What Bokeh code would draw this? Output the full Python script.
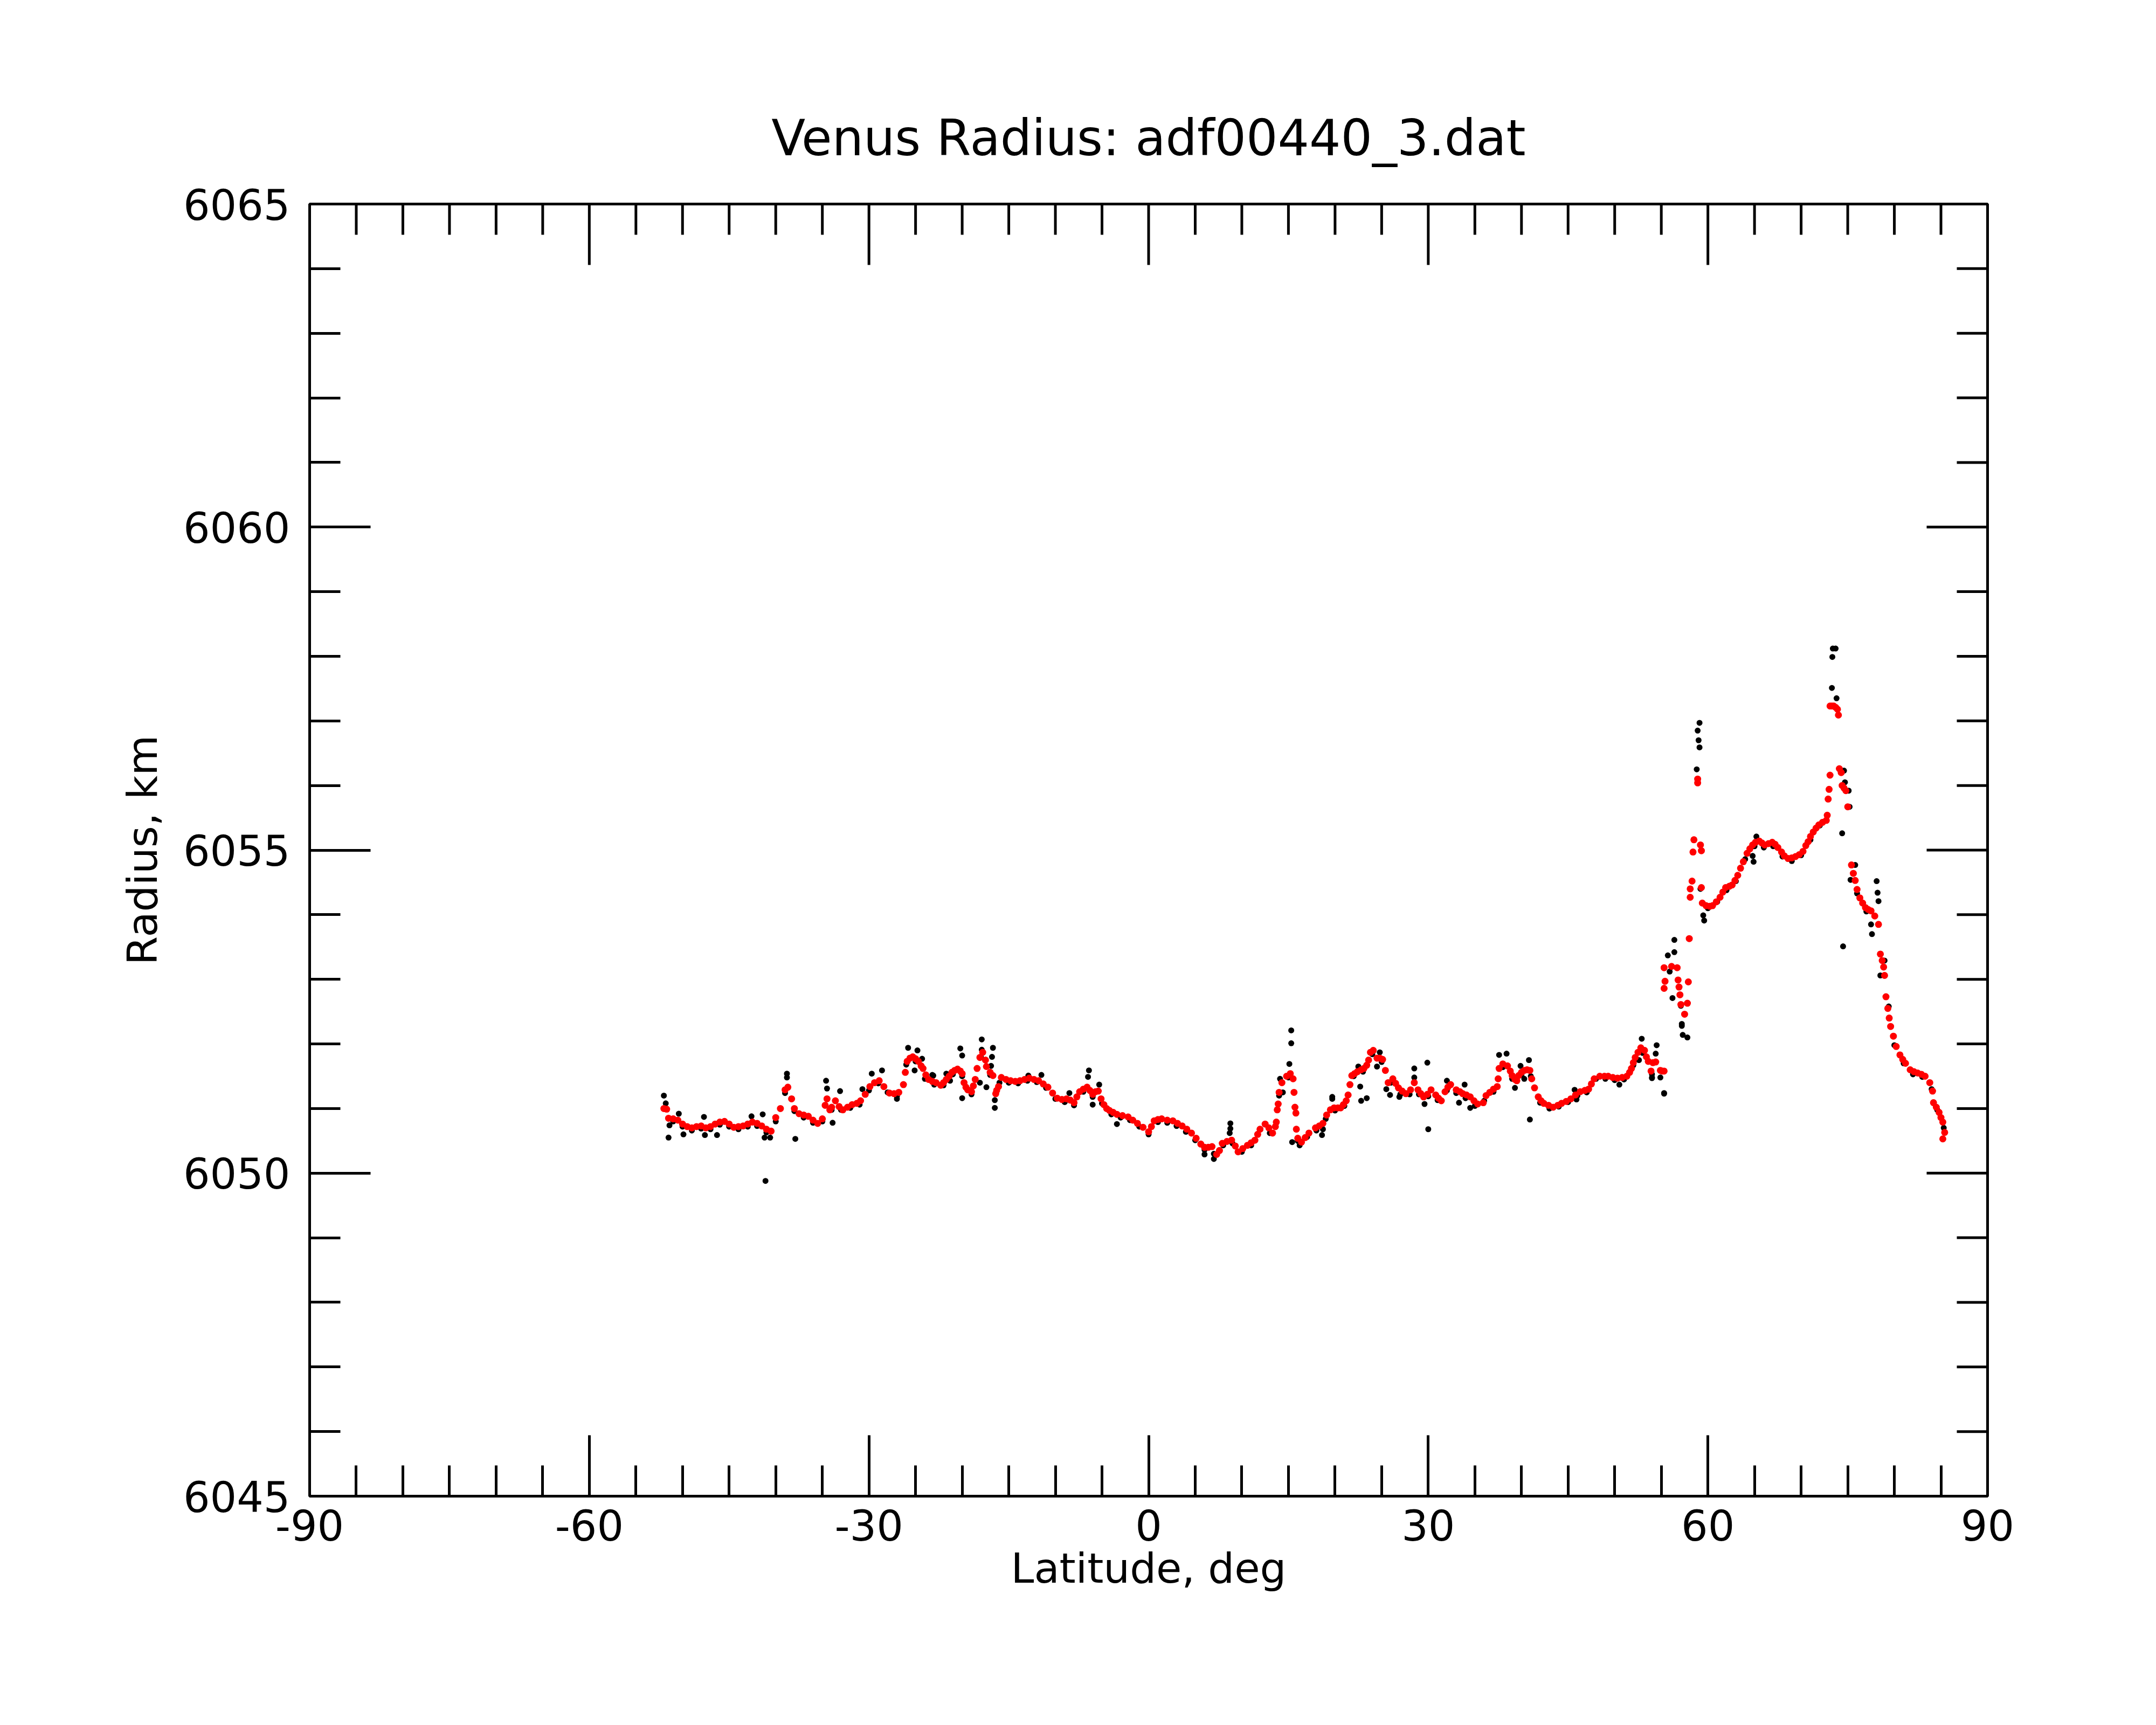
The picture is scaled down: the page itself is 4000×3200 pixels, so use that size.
import math
from bokeh.plotting import figure
from bokeh.models import Range1d, FixedTicker
from bokeh.embed import file_html
from bokeh.resources import INLINE

TITLE = "Venus Radius: adf00440_3.dat"
X_LABEL = "Latitude, deg"
Y_LABEL = "Radius, km"
x_major = [-90, -60, -30, 0, 30, 60, 90]
x_minor = [v for v in range(-90, 91, 5) if v % 30 != 0]
y_major = [6045, 6050, 6055, 6060, 6065]
y_minor = [v for v in range(6045, 6066) if v % 5 != 0]

# smoothed radius (red), (latitude, radius km)
fit_points = [
    (-52.0, 6051.00), (-51.7, 6050.99), (-51.5, 6050.85), (-51.0, 6050.84), (-50.5, 6050.82),
    (-50.0, 6050.76), (-49.5, 6050.72), (-49.0, 6050.70), (-48.5, 6050.72), (-48.0, 6050.73),
    (-47.5, 6050.70), (-47.0, 6050.72), (-46.5, 6050.76), (-46.0, 6050.79), (-45.5, 6050.80),
    (-45.0, 6050.76), (-44.5, 6050.71), (-44.0, 6050.72), (-43.5, 6050.73), (-43.0, 6050.76),
    (-42.5, 6050.79), (-42.0, 6050.77), (-41.5, 6050.73), (-41.0, 6050.68), (-40.5, 6050.65),
    (-40.0, 6050.86), (-39.5, 6051.00), (-39.0, 6051.29), (-38.7, 6051.33), (-38.3, 6051.15),
    (-38.0, 6051.00), (-37.5, 6050.92), (-37.0, 6050.90), (-36.5, 6050.88), (-36.0, 6050.82),
    (-35.5, 6050.77), (-35.0, 6050.84), (-34.7, 6051.05), (-34.5, 6051.15), (-34.2, 6050.98),
    (-34.0, 6051.02), (-33.6, 6051.12), (-33.2, 6051.03), (-32.8, 6050.98), (-32.3, 6051.02),
    (-31.8, 6051.06), (-31.3, 6051.08), (-30.9, 6051.12), (-30.4, 6051.22), (-29.9, 6051.34),
    (-29.4, 6051.40), (-28.9, 6051.43), (-28.4, 6051.34), (-27.8, 6051.24), (-27.3, 6051.23),
    (-26.8, 6051.25), (-26.3, 6051.37), (-26.1, 6051.56), (-25.9, 6051.73), (-25.6, 6051.78),
    (-25.3, 6051.80), (-25.0, 6051.77), (-24.7, 6051.73), (-24.4, 6051.66), (-24.2, 6051.62),
    (-23.9, 6051.52), (-23.6, 6051.45), (-23.2, 6051.42), (-22.8, 6051.40), (-22.3, 6051.36),
    (-22.0, 6051.40), (-21.7, 6051.45), (-21.4, 6051.50), (-21.1, 6051.56), (-20.8, 6051.59),
    (-20.5, 6051.61), (-20.2, 6051.58), (-20.0, 6051.54), (-19.8, 6051.40), (-19.6, 6051.33),
    (-19.4, 6051.29), (-19.0, 6051.26), (-18.8, 6051.35), (-18.6, 6051.45), (-18.4, 6051.62),
    (-18.1, 6051.79), (-17.8, 6051.87), (-17.5, 6051.75), (-17.4, 6051.65), (-17.0, 6051.56),
    (-16.7, 6051.51), (-16.4, 6051.23), (-16.3, 6051.28), (-16.1, 6051.34), (-15.8, 6051.48),
    (-15.3, 6051.45), (-14.8, 6051.43), (-14.3, 6051.42), (-13.8, 6051.43), (-13.3, 6051.45),
    (-12.8, 6051.47), (-12.3, 6051.45), (-11.8, 6051.43), (-11.3, 6051.38), (-10.8, 6051.33),
    (-10.3, 6051.24), (-9.8, 6051.16), (-9.3, 6051.14), (-8.8, 6051.15), (-8.4, 6051.13),
    (-8.0, 6051.09), (-7.7, 6051.18), (-7.4, 6051.26), (-7.0, 6051.30), (-6.6, 6051.33),
    (-6.3, 6051.28), (-6.0, 6051.22), (-5.7, 6051.26), (-5.4, 6051.27), (-5.1, 6051.15),
    (-4.8, 6051.06), (-4.5, 6051.00), (-4.2, 6050.97), (-3.8, 6050.94), (-3.4, 6050.91),
    (-2.8, 6050.89), (-2.2, 6050.87), (-1.7, 6050.82), (-1.2, 6050.77), (-0.6, 6050.71),
    (0.0, 6050.64), (0.3, 6050.72), (0.6, 6050.81), (1.0, 6050.83), (1.4, 6050.84),
    (2.0, 6050.82), (2.6, 6050.81), (3.1, 6050.77), (3.6, 6050.73), (4.1, 6050.68),
    (4.6, 6050.62), (5.1, 6050.54), (5.6, 6050.45), (6.0, 6050.40), (6.4, 6050.40),
    (6.8, 6050.41), (7.3, 6050.29), (7.6, 6050.35), (7.9, 6050.46), (8.4, 6050.49),
    (8.9, 6050.51), (9.3, 6050.42), (9.6, 6050.33), (10.1, 6050.38), (10.6, 6050.43),
    (11.0, 6050.47), (11.4, 6050.51), (11.7, 6050.60), (11.95, 6050.68), (12.5, 6050.76),
    (12.9, 6050.70), (13.3, 6050.62), (13.6, 6050.72), (13.7, 6050.79), (13.8, 6050.98),
    (13.9, 6051.07), (14.0, 6051.25), (14.3, 6051.40), (14.8, 6051.50), (15.2, 6051.54),
    (15.5, 6051.46), (15.6, 6051.25), (15.7, 6051.02), (15.8, 6050.93), (15.85, 6050.68),
    (16.0, 6050.54), (16.4, 6050.48), (16.8, 6050.55), (17.2, 6050.62), (17.9, 6050.70),
    (18.3, 6050.73), (18.7, 6050.77), (19.1, 6050.90), (19.5, 6050.98), (19.9, 6051.01),
    (20.3, 6051.01), (20.6, 6051.01), (20.9, 6051.06), (21.2, 6051.12), (21.4, 6051.21),
    (21.6, 6051.37), (21.8, 6051.51), (22.1, 6051.54), (22.4, 6051.57), (22.8, 6051.60),
    (23.1, 6051.62), (23.4, 6051.67), (23.6, 6051.75), (23.8, 6051.87), (24.1, 6051.90),
    (24.5, 6051.78), (24.8, 6051.78), (25.1, 6051.76), (25.4, 6051.59), (25.7, 6051.40),
    (26.2, 6051.46), (26.5, 6051.39), (26.8, 6051.32), (27.2, 6051.27), (27.6, 6051.23),
    (28.1, 6051.29), (28.5, 6051.40), (28.9, 6051.29), (29.2, 6051.23), (29.5, 6051.18),
    (29.9, 6051.22), (30.3, 6051.29), (30.8, 6051.21), (31.1, 6051.16), (31.4, 6051.12),
    (31.8, 6051.26), (32.1, 6051.33), (32.4, 6051.37), (33.0, 6051.29), (33.4, 6051.26),
    (33.7, 6051.23), (34.1, 6051.21), (34.5, 6051.18), (34.9, 6051.12), (35.3, 6051.07),
    (35.9, 6051.09), (36.2, 6051.20), (36.6, 6051.25), (37.0, 6051.30), (37.4, 6051.34),
    (37.5, 6051.46), (37.6, 6051.62), (38.0, 6051.69), (38.5, 6051.66), (38.8, 6051.58),
    (39.0, 6051.51), (39.3, 6051.45), (39.5, 6051.43), (39.7, 6051.51), (40.0, 6051.56),
    (40.3, 6051.59), (40.6, 6051.60), (40.9, 6051.59), (41.1, 6051.46), (41.4, 6051.32),
    (41.8, 6051.18), (42.1, 6051.12), (42.4, 6051.08), (42.9, 6051.05), (43.4, 6051.02),
    (43.9, 6051.05), (44.3, 6051.08), (44.8, 6051.11), (45.3, 6051.15), (45.8, 6051.21),
    (46.3, 6051.26), (46.8, 6051.28), (47.2, 6051.30), (47.5, 6051.38), (47.8, 6051.46),
    (48.4, 6051.50), (48.9, 6051.50), (49.3, 6051.50), (49.8, 6051.48), (50.3, 6051.47),
    (50.8, 6051.48), (51.3, 6051.50), (51.6, 6051.56), (51.8, 6051.62), (52.0, 6051.71),
    (52.2, 6051.79), (52.5, 6051.87), (52.8, 6051.94), (53.2, 6051.90), (53.4, 6051.80),
    (53.6, 6051.73), (53.9, 6051.58), (54.1, 6051.71), (54.4, 6051.72), (54.9, 6051.59),
    (55.1, 6051.58), (55.3, 6051.58), (55.3, 6052.86), (55.3, 6053.18), (55.4, 6052.97),
    (56.1, 6053.20), (56.7, 6053.18), (56.8, 6052.99), (56.9, 6052.88), (57.0, 6052.76),
    (57.1, 6052.61), (57.5, 6052.46), (57.8, 6052.63), (57.9, 6052.96), (58.0, 6053.63),
    (58.1, 6054.27), (58.1, 6054.40), (58.3, 6054.52), (58.4, 6054.97), (58.5, 6055.16),
    (58.9, 6056.10), (58.9, 6056.04), (59.2, 6055.08), (59.3, 6054.99), (59.3, 6054.42),
    (59.4, 6054.18), (59.8, 6054.14), (60.2, 6054.13), (60.5, 6054.14), (60.9, 6054.20),
    (61.3, 6054.27), (61.6, 6054.35), (61.9, 6054.42), (62.3, 6054.44), (62.6, 6054.46),
    (62.9, 6054.53), (63.2, 6054.61), (63.5, 6054.72), (63.8, 6054.82), (64.2, 6054.95),
    (64.5, 6055.02), (64.8, 6055.08), (65.1, 6055.12), (65.5, 6055.14), (65.8, 6055.11),
    (66.1, 6055.08), (66.5, 6055.10), (66.9, 6055.12), (67.2, 6055.09), (67.5, 6055.04),
    (67.9, 6054.97), (68.2, 6054.91), (68.6, 6054.87), (69.0, 6054.88), (69.4, 6054.90),
    (69.8, 6054.93), (70.2, 6054.98), (70.5, 6055.07), (70.75, 6055.13), (71.0, 6055.21),
    (71.3, 6055.28), (71.6, 6055.34), (71.9, 6055.39), (72.3, 6055.43), (72.7, 6055.46),
    (72.8, 6055.54), (72.9, 6055.79), (73.0, 6055.94), (73.1, 6056.16), (73.1, 6057.23),
    (73.3, 6057.23), (73.5, 6057.23), (73.7, 6057.21), (73.9, 6057.18), (74.0, 6057.09),
    (74.1, 6056.26), (74.3, 6056.20), (74.4, 6056.00), (74.6, 6055.96), (74.8, 6055.92),
    (75.0, 6055.67), (75.4, 6054.77), (75.6, 6054.64), (75.8, 6054.53), (76.0, 6054.39),
    (76.3, 6054.26), (76.6, 6054.18), (76.9, 6054.11), (77.2, 6054.08), (77.5, 6054.06),
    (77.9, 6053.98), (78.3, 6053.85), (78.5, 6053.39), (78.7, 6053.29), (78.85, 6053.19),
    (78.95, 6053.06), (79.1, 6052.73), (79.3, 6052.55), (79.45, 6052.40), (79.6, 6052.27),
    (79.9, 6052.12), (80.2, 6051.96), (80.6, 6051.83), (80.9, 6051.76), (81.2, 6051.70),
    (81.7, 6051.60), (82.1, 6051.57), (82.5, 6051.55), (82.9, 6051.53), (83.3, 6051.50),
    (83.8, 6051.40), (84.1, 6051.27), (84.2, 6051.09), (84.5, 6051.02), (84.8, 6050.94),
    (85.0, 6050.86), (85.2, 6050.79), (85.4, 6050.63), (85.2, 6050.53),
]

# raw radius (black), points along the profile
raw_profile = [
    (-51, 6050.80), (-50, 6050.72), (-49, 6050.66), (-48, 6050.69), (-47, 6050.68),
    (-46, 6050.75), (-45, 6050.72), (-44, 6050.68), (-43, 6050.72), (-42, 6050.73),
    (-41, 6050.63), (-40, 6050.80), (-39, 6051.24), (-38, 6050.96), (-37, 6050.86),
    (-36, 6050.78), (-35, 6050.80), (-34, 6050.98), (-33, 6050.98), (-32, 6051.01),
    (-31, 6051.06), (-30, 6051.28), (-29, 6051.39), (-28, 6051.25), (-27, 6051.19),
    (-26, 6051.68), (-25, 6051.73), (-24, 6051.46), (-23, 6051.37), (-22, 6051.36),
    (-21, 6051.53), (-20, 6051.50), (-19, 6051.22), (-18, 6051.80), (-17, 6051.52),
    (-16, 6051.40), (-15, 6051.40), (-14, 6051.39), (-13, 6051.43), (-12, 6051.41),
    (-11, 6051.32), (-10, 6051.15), (-9, 6051.10), (-8, 6051.05), (-7, 6051.26),
    (-6, 6051.18), (-5, 6051.08), (-4, 6050.91), (-3, 6050.86), (-2, 6050.82),
    (-1, 6050.72), (0, 6050.60), (1, 6050.79), (2, 6050.78), (3, 6050.73),
    (4, 6050.64), (5, 6050.51), (6, 6050.36), (7, 6050.30), (8, 6050.43),
    (9, 6050.46), (10, 6050.33), (11, 6050.43), (12, 6050.68), (13, 6050.62),
    (14, 6051.20), (15, 6051.48), (16, 6050.50), (17, 6050.56), (18, 6050.66),
    (19, 6050.84), (20, 6050.97), (21, 6051.04), (22, 6051.50), (23, 6051.57),
    (24, 6051.84), (25, 6051.72), (26, 6051.40), (27, 6051.22), (28, 6051.22),
    (29, 6051.22), (30, 6051.19), (31, 6051.13), (32, 6051.28), (33, 6051.24),
    (34, 6051.16), (35, 6051.04), (36, 6051.12), (37, 6051.26), (38, 6051.64),
    (39, 6051.46), (40, 6051.52), (41, 6051.50), (42, 6051.09), (43, 6051.00),
    (44, 6051.03), (45, 6051.10), (46, 6051.20), (47, 6051.25), (48, 6051.46),
    (49, 6051.46), (50, 6051.44), (51, 6051.45), (52, 6051.67), (53, 6051.86),
    (54, 6051.53), (60, 6054.10), (61, 6054.20), (62, 6054.38), (63, 6054.52),
    (64, 6054.86), (65, 6055.06), (66, 6055.04), (67, 6055.06), (68, 6054.90),
    (69, 6054.83), (70, 6054.92), (71, 6055.16), (72, 6055.38), (76, 6054.33),
    (77, 6054.05), (80, 6051.98), (81, 6051.70), (82, 6051.53), (83, 6051.49),
    (84, 6051.30), (84.6, 6050.98), (85.3, 6050.70),
]

# raw radius (black), scattered points away from the profile
raw_scatter = [
    (-52.0, 6051.20), (-51.8, 6051.08), (-51.5, 6050.55), (-51.4, 6050.74), (-50.4, 6050.92),
    (-49.9, 6050.60), (-47.7, 6050.87), (-47.6, 6050.59), (-46.3, 6050.59), (-42.6, 6050.88),
    (-41.4, 6050.91), (-41.1, 6049.88), (-41.2, 6050.55), (-40.6, 6050.55), (-38.8, 6051.54),
    (-38.8, 6051.48), (-37.9, 6050.53), (-34.6, 6051.43), (-34.5, 6051.31), (-33.1, 6051.27),
    (-33.9, 6050.78), (-30.7, 6051.30), (-29.7, 6051.54), (-28.6, 6051.59), (-27.0, 6051.15),
    (-25.8, 6051.94), (-24.8, 6051.90), (-24.3, 6051.77), (-25.1, 6051.59), (-23.2, 6051.52),
    (-23.1, 6051.51), (-21.7, 6051.54), (-21.3, 6051.43), (-20.2, 6051.93), (-20.0, 6051.82),
    (-20.0, 6051.16), (-17.9, 6052.07), (-17.9, 6051.91), (-18.1, 6051.40), (-17.4, 6051.33),
    (-16.7, 6051.94), (-16.8, 6051.80), (-16.9, 6051.66), (-16.5, 6051.13), (-16.5, 6051.01),
    (-12.9, 6051.51), (-11.5, 6051.52), (-8.5, 6051.24), (-6.4, 6051.59), (-6.5, 6051.49),
    (-5.3, 6051.37), (-6.0, 6051.06), (-3.4, 6050.76), (6.0, 6050.29), (7.0, 6050.22),
    (8.77, 6050.77), (8.77, 6050.69), (8.7, 6050.62), (15.3, 6052.21), (15.3, 6052.01),
    (15.1, 6051.69), (14.1, 6051.46), (14.4, 6051.25), (15.4, 6050.48), (16.2, 6050.43),
    (18.6, 6050.59), (18.7, 6050.68), (19.7, 6051.15), (19.7, 6051.18), (22.7, 6051.34),
    (22.8, 6051.12), (23.4, 6051.16), (22.5, 6051.65), (24.8, 6051.87), (24.5, 6051.65),
    (25.5, 6051.30), (25.9, 6051.21), (26.9, 6051.18), (28.5, 6051.62), (28.5, 6051.48),
    (29.9, 6051.71), (30.0, 6050.68), (29.6, 6051.07), (32.0, 6051.43), (33.3, 6051.09),
    (33.9, 6051.37), (34.5, 6051.01), (37.6, 6051.83), (38.4, 6051.85), (39.3, 6051.32),
    (39.9, 6051.66), (40.8, 6051.75), (40.3, 6051.46), (40.9, 6050.83), (45.9, 6051.14),
    (45.7, 6051.29), (50.5, 6051.37), (52.9, 6052.08), (54.5, 6051.98), (54.4, 6051.85),
    (52.6, 6051.75), (54.0, 6051.47), (54.9, 6051.48), (55.3, 6051.23), (55.3, 6051.24),
    (54.0, 6051.48), (56.4, 6053.61), (56.4, 6053.42), (55.7, 6053.37), (55.9, 6053.12),
    (56.2, 6052.71), (57.1, 6052.59), (57.2, 6052.31), (57.3, 6052.14), (57.8, 6052.10),
    (57.2, 6052.28), (59.1, 6056.97), (58.9, 6056.85), (59.0, 6056.70), (59.1, 6056.59),
    (58.8, 6056.25), (59.5, 6053.99), (59.6, 6053.91), (59.2, 6054.40), (64.9, 6054.82),
    (64.8, 6054.91), (65.2, 6055.21), (73.4, 6058.12), (73.7, 6058.12), (73.35, 6057.99),
    (73.3, 6057.51), (73.8, 6057.35), (74.6, 6056.23), (74.7, 6056.05), (75.1, 6055.92),
    (75.2, 6055.67), (74.4, 6055.26), (75.8, 6054.77), (75.3, 6054.54), (78.1, 6054.52),
    (78.2, 6054.34), (78.3, 6054.21), (77.5, 6053.85), (77.6, 6053.70), (74.5, 6053.51),
    (78.5, 6053.06), (78.95, 6053.29), (79.4, 6052.58),
]

raw_lat = [a for a, b in raw_profile + raw_scatter]
raw_r = [b for a, b in raw_profile + raw_scatter]
fit_lat = [a for a, b in fit_points]
fit_r = [b for a, b in fit_points]

FONT = "DejaVu Sans"
X0, X1 = -90, 90
Y0, Y1 = 6045, 6065
MAJOR_LEN = 113
MINOR_LEN = 57
LW = 5

p = figure(width=3984, height=3184, x_range=Range1d(X0, X1), y_range=Range1d(Y0, Y1),
           output_backend="svg", toolbar_location=None,
           min_border_left=574, min_border_right=297, min_border_top=378, min_border_bottom=409,
           x_axis_label=X_LABEL, y_axis_label=Y_LABEL)
p.grid.visible = False
p.outline_line_color = "black"
p.outline_line_width = LW
p.background_fill_color = "white"
p.border_fill_color = "white"

p.title.text = TITLE
p.title.align = "center"
p.title.text_font = FONT
p.title.text_font_size = "92px"
p.title.text_font_style = "normal"
p.title.text_color = "black"
p.title.standoff = 137

for ax in p.axis:
    ax.axis_line_width = LW
    ax.axis_line_color = "black"
    ax.major_tick_line_width = LW
    ax.minor_tick_line_width = LW
    ax.major_tick_line_color = "black"
    ax.minor_tick_line_color = "black"
    ax.major_tick_in = MAJOR_LEN
    ax.major_tick_out = 0
    ax.minor_tick_in = MINOR_LEN
    ax.minor_tick_out = 0
    ax.major_label_text_font = FONT
    ax.major_label_text_font_size = "78px"
    ax.major_label_text_color = "black"
    ax.axis_label_text_font = FONT
    ax.axis_label_text_font_size = "77px"
    ax.axis_label_text_font_style = "normal"
    ax.axis_label_text_color = "black"

p.xaxis.ticker = FixedTicker(ticks=x_major, minor_ticks=x_minor)
p.yaxis.ticker = FixedTicker(ticks=y_major, minor_ticks=y_minor)
p.xaxis.major_label_overrides = {v: str(v) for v in x_major}
p.yaxis.major_label_overrides = {v: str(v) for v in y_major}

p.xaxis.major_label_standoff = 24
p.xaxis.axis_label_standoff = 4
p.yaxis.major_label_standoff = 36
p.yaxis.axis_label_standoff = 28

# mirrored tick marks on the top and right edges of the frame (lengths in screen pixels)
p.ray(x=x_major, y=[Y1] * len(x_major), length=MAJOR_LEN, length_units="screen",
      angle=-math.pi / 2, line_color="black", line_width=LW)
p.ray(x=x_minor, y=[Y1] * len(x_minor), length=MINOR_LEN, length_units="screen",
      angle=-math.pi / 2, line_color="black", line_width=LW)
p.ray(x=[X1] * len(y_major), y=y_major, length=MAJOR_LEN, length_units="screen",
      angle=math.pi, line_color="black", line_width=LW)
p.ray(x=[X1] * len(y_minor), y=y_minor, length=MINOR_LEN, length_units="screen",
      angle=math.pi, line_color="black", line_width=LW)

p.scatter(raw_lat, raw_r, size=11, color="black", line_color=None)
p.scatter(fit_lat, fit_r, size=13, color="red", line_color=None)

open("out.html", "w").write(file_html(p, INLINE))
